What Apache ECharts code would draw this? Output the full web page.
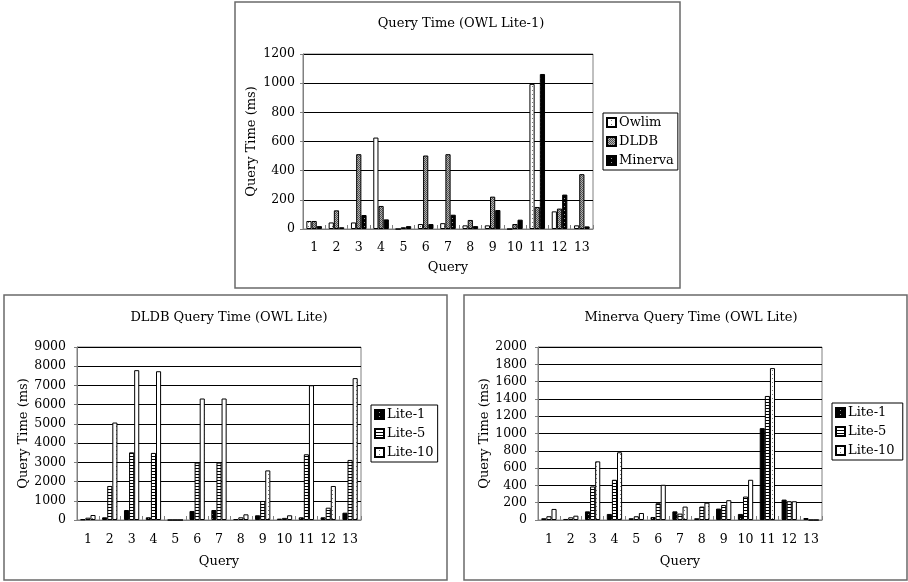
<!DOCTYPE html>
<html>
<head>
<meta charset="utf-8">
<script src="https://cdn.jsdelivr.net/npm/echarts@6/dist/echarts.min.js"></script>
<style>
  html, body { margin: 0; padding: 0; background: #fff; }
  #chart { width: 908px; height: 582px; }
</style>
</head>
<body>
<div id="chart"></div>
<script>
// Query categories shared by all three panels
const queries = ['1','2','3','4','5','6','7','8','9','10','11','12','13'];

// Panel 1: Query Time (OWL Lite-1), ms
const owlimLite1   = [55, 45, 45, 627, 0, 34, 40, 25, 25, 0, 995, 121, 25];
const dldbLite1    = [55, 128, 513, 158, 12, 504, 513, 62, 222, 34, 151, 140, 376];
const minervaLite1 = [20, 12, 96, 66, 20, 34, 98, 20, 130, 64, 1063, 236, 18];

// Panel 2: DLDB Query Time (OWL Lite), ms
const dldbL1  = [36, 140, 520, 140, 0, 470, 520, 50, 245, 70, 140, 140, 380];
const dldbL5  = [120, 1770, 3520, 3490, 0, 2985, 2985, 140, 990, 110, 3420, 640, 3125];
const dldbL10 = [260, 5070, 7795, 7740, 0, 6320, 6320, 295, 2580, 245, 7010, 1770, 7380];

// Panel 3: Minerva Query Time (OWL Lite), ms
const minL1  = [20, 12, 100, 70, 20, 35, 100, 20, 132, 70, 1062, 236, 23];
const minL5  = [43, 31, 388, 465, 43, 194, 74, 155, 174, 271, 1434, 217, 0];
const minL10 = [128, 50, 678, 783, 81, 407, 155, 200, 229, 465, 1756, 217, 0];

// Y-axis tick settings
const yTop = { max: 1200, interval: 200 };
const yDldb = { max: 9000, interval: 1000 };
const yMin = { max: 2000, interval: 200 };

const FONT = '"DejaVu Serif", "Liberation Serif", serif';

// Fill patterns for the bars
function makePattern(w, h, draw) {
  const c = document.createElement('canvas');
  c.width = w; c.height = h;
  const ctx = c.getContext('2d');
  draw(ctx);
  return { image: c, repeat: 'repeat' };
}
const checker = makePattern(2, 2, ctx => {
  ctx.fillStyle = '#b4b4b4'; ctx.fillRect(0, 0, 2, 2);
  ctx.fillStyle = '#505050'; ctx.fillRect(0, 0, 1, 1); ctx.fillRect(1, 1, 1, 1);
});
const hStripes = makePattern(2, 3, ctx => {
  ctx.fillStyle = '#ffffff'; ctx.fillRect(0, 0, 2, 3);
  ctx.fillStyle = '#000000'; ctx.fillRect(0, 0, 2, 1);
});
const whiteDots = makePattern(8, 4, ctx => {
  ctx.fillStyle = '#ffffff'; ctx.fillRect(0, 0, 8, 4);
  ctx.fillStyle = '#777777'; ctx.fillRect(4, 2, 1, 1);
});
const blackDots = makePattern(8, 4, ctx => {
  ctx.fillStyle = '#000000'; ctx.fillRect(0, 0, 8, 4);
  ctx.fillStyle = '#9a9a9a'; ctx.fillRect(4, 2, 1, 1);
});

const grids = [
  { left: 303, top: 54, width: 290, height: 175 },
  { left: 77, top: 347, width: 284, height: 173 },
  { left: 538, top: 347, width: 284, height: 173 }
];

function xAxisFor(i) {
  return {
    type: 'category', gridIndex: i, data: queries,
    name: 'Query', nameLocation: 'middle', nameGap: i === 0 ? 32 : 35,
    nameTextStyle: { fontFamily: FONT, fontSize: 13, color: '#000' },
    axisLine: { lineStyle: { color: '#808080', width: 1 } },
    axisTick: { show: true, inside: true, length: 4, lineStyle: { color: '#808080' } },
    axisLabel: { fontFamily: FONT, fontSize: 12.5, color: '#000', margin: i === 0 ? 12 : 13, interval: 0 },
    splitLine: { show: false }
  };
}
function yAxisFor(i, cfg) {
  return {
    type: 'value', gridIndex: i, min: 0, max: cfg.max, interval: cfg.interval,
    name: 'Query Time (ms)', nameLocation: 'middle', nameRotate: 90, nameGap: 45,
    nameTextStyle: { fontFamily: FONT, fontSize: 13, color: '#000' },
    axisLine: { show: true, lineStyle: { color: '#808080' } },
    axisTick: { show: true, length: 3, lineStyle: { color: '#808080' } },
    axisLabel: {
      fontFamily: FONT, fontSize: 12.5, color: '#000', margin: i === 0 ? 8 : 11,
      formatter: v => String(v)
    },
    splitLine: { show: true, lineStyle: { color: '#000', width: 1 } }
  };
}
function barSeries(name, data, i, fill) {
  return {
    type: 'bar', name: name, data: data,
    xAxisIndex: i, yAxisIndex: i,
    barGap: '0%', barCategoryGap: '30%',
    itemStyle: { color: fill, borderColor: '#000', borderWidth: 1 },
    emphasis: { disabled: true },
    animation: false
  };
}
function legendFor(names, left, top) {
  return {
    data: names, orient: 'vertical', left: left, top: top,
    icon: 'rect', itemWidth: 9, itemHeight: 9, itemGap: 6,
    padding: [3, 4, 3, 3],
    borderColor: '#000', borderWidth: 1, backgroundColor: '#fff',
    textStyle: { fontFamily: FONT, fontSize: 13, color: '#000', padding: [0, 0, 0, -2] },
    selectedMode: false
  };
}
function titleFor(text, cx, top) {
  return {
    text: text, left: cx, top: top, textAlign: 'center',
    textStyle: { fontFamily: FONT, fontSize: 13, fontWeight: 'normal', color: '#000' }
  };
}

const chart = echarts.init(document.getElementById('chart'), null, { renderer: 'canvas' });
chart.setOption({
  backgroundColor: '#fff',
  animation: false,
  graphic: [
    { type: 'rect', shape: { x: 235, y: 2, width: 445, height: 286 }, style: { fill: 'none', stroke: '#6a6a6a', lineWidth: 1.5 }, z: -1 },
    { type: 'rect', shape: { x: 4, y: 295, width: 443, height: 285 }, style: { fill: 'none', stroke: '#6a6a6a', lineWidth: 1.5 }, z: -1 },
    { type: 'rect', shape: { x: 464, y: 295, width: 443, height: 285 }, style: { fill: 'none', stroke: '#6a6a6a', lineWidth: 1.5 }, z: -1 }
  ],
  title: [
    titleFor('Query Time (OWL Lite-1)', 456, 12),
    titleFor('DLDB Query Time (OWL Lite)', 224, 306),
    titleFor('Minerva Query Time (OWL Lite)', 686, 306)
  ],
  legend: [
    legendFor(['Owlim', 'DLDB', 'Minerva'], 603, 113),
    legendFor(['Lite-1', 'Lite-5', 'Lite-10'], 371, 405),
    legendFor(['Lite-1 ', 'Lite-5 ', 'Lite-10 '], 832, 403)
  ],
  grid: grids.map(g => Object.assign({ show: true, borderColor: '#808080', borderWidth: 1, backgroundColor: '#fff' }, g)),
  xAxis: [xAxisFor(0), xAxisFor(1), xAxisFor(2)],
  yAxis: [yAxisFor(0, yTop), yAxisFor(1, yDldb), yAxisFor(2, yMin)],
  series: [
    barSeries('Owlim', owlimLite1, 0, whiteDots),
    barSeries('DLDB', dldbLite1, 0, checker),
    barSeries('Minerva', minervaLite1, 0, blackDots),
    barSeries('Lite-1', dldbL1, 1, blackDots),
    barSeries('Lite-5', dldbL5, 1, hStripes),
    barSeries('Lite-10', dldbL10, 1, whiteDots),
    barSeries('Lite-1 ', minL1, 2, blackDots),
    barSeries('Lite-5 ', minL5, 2, hStripes),
    barSeries('Lite-10 ', minL10, 2, whiteDots)
  ]
});
</script>
</body>
</html>
